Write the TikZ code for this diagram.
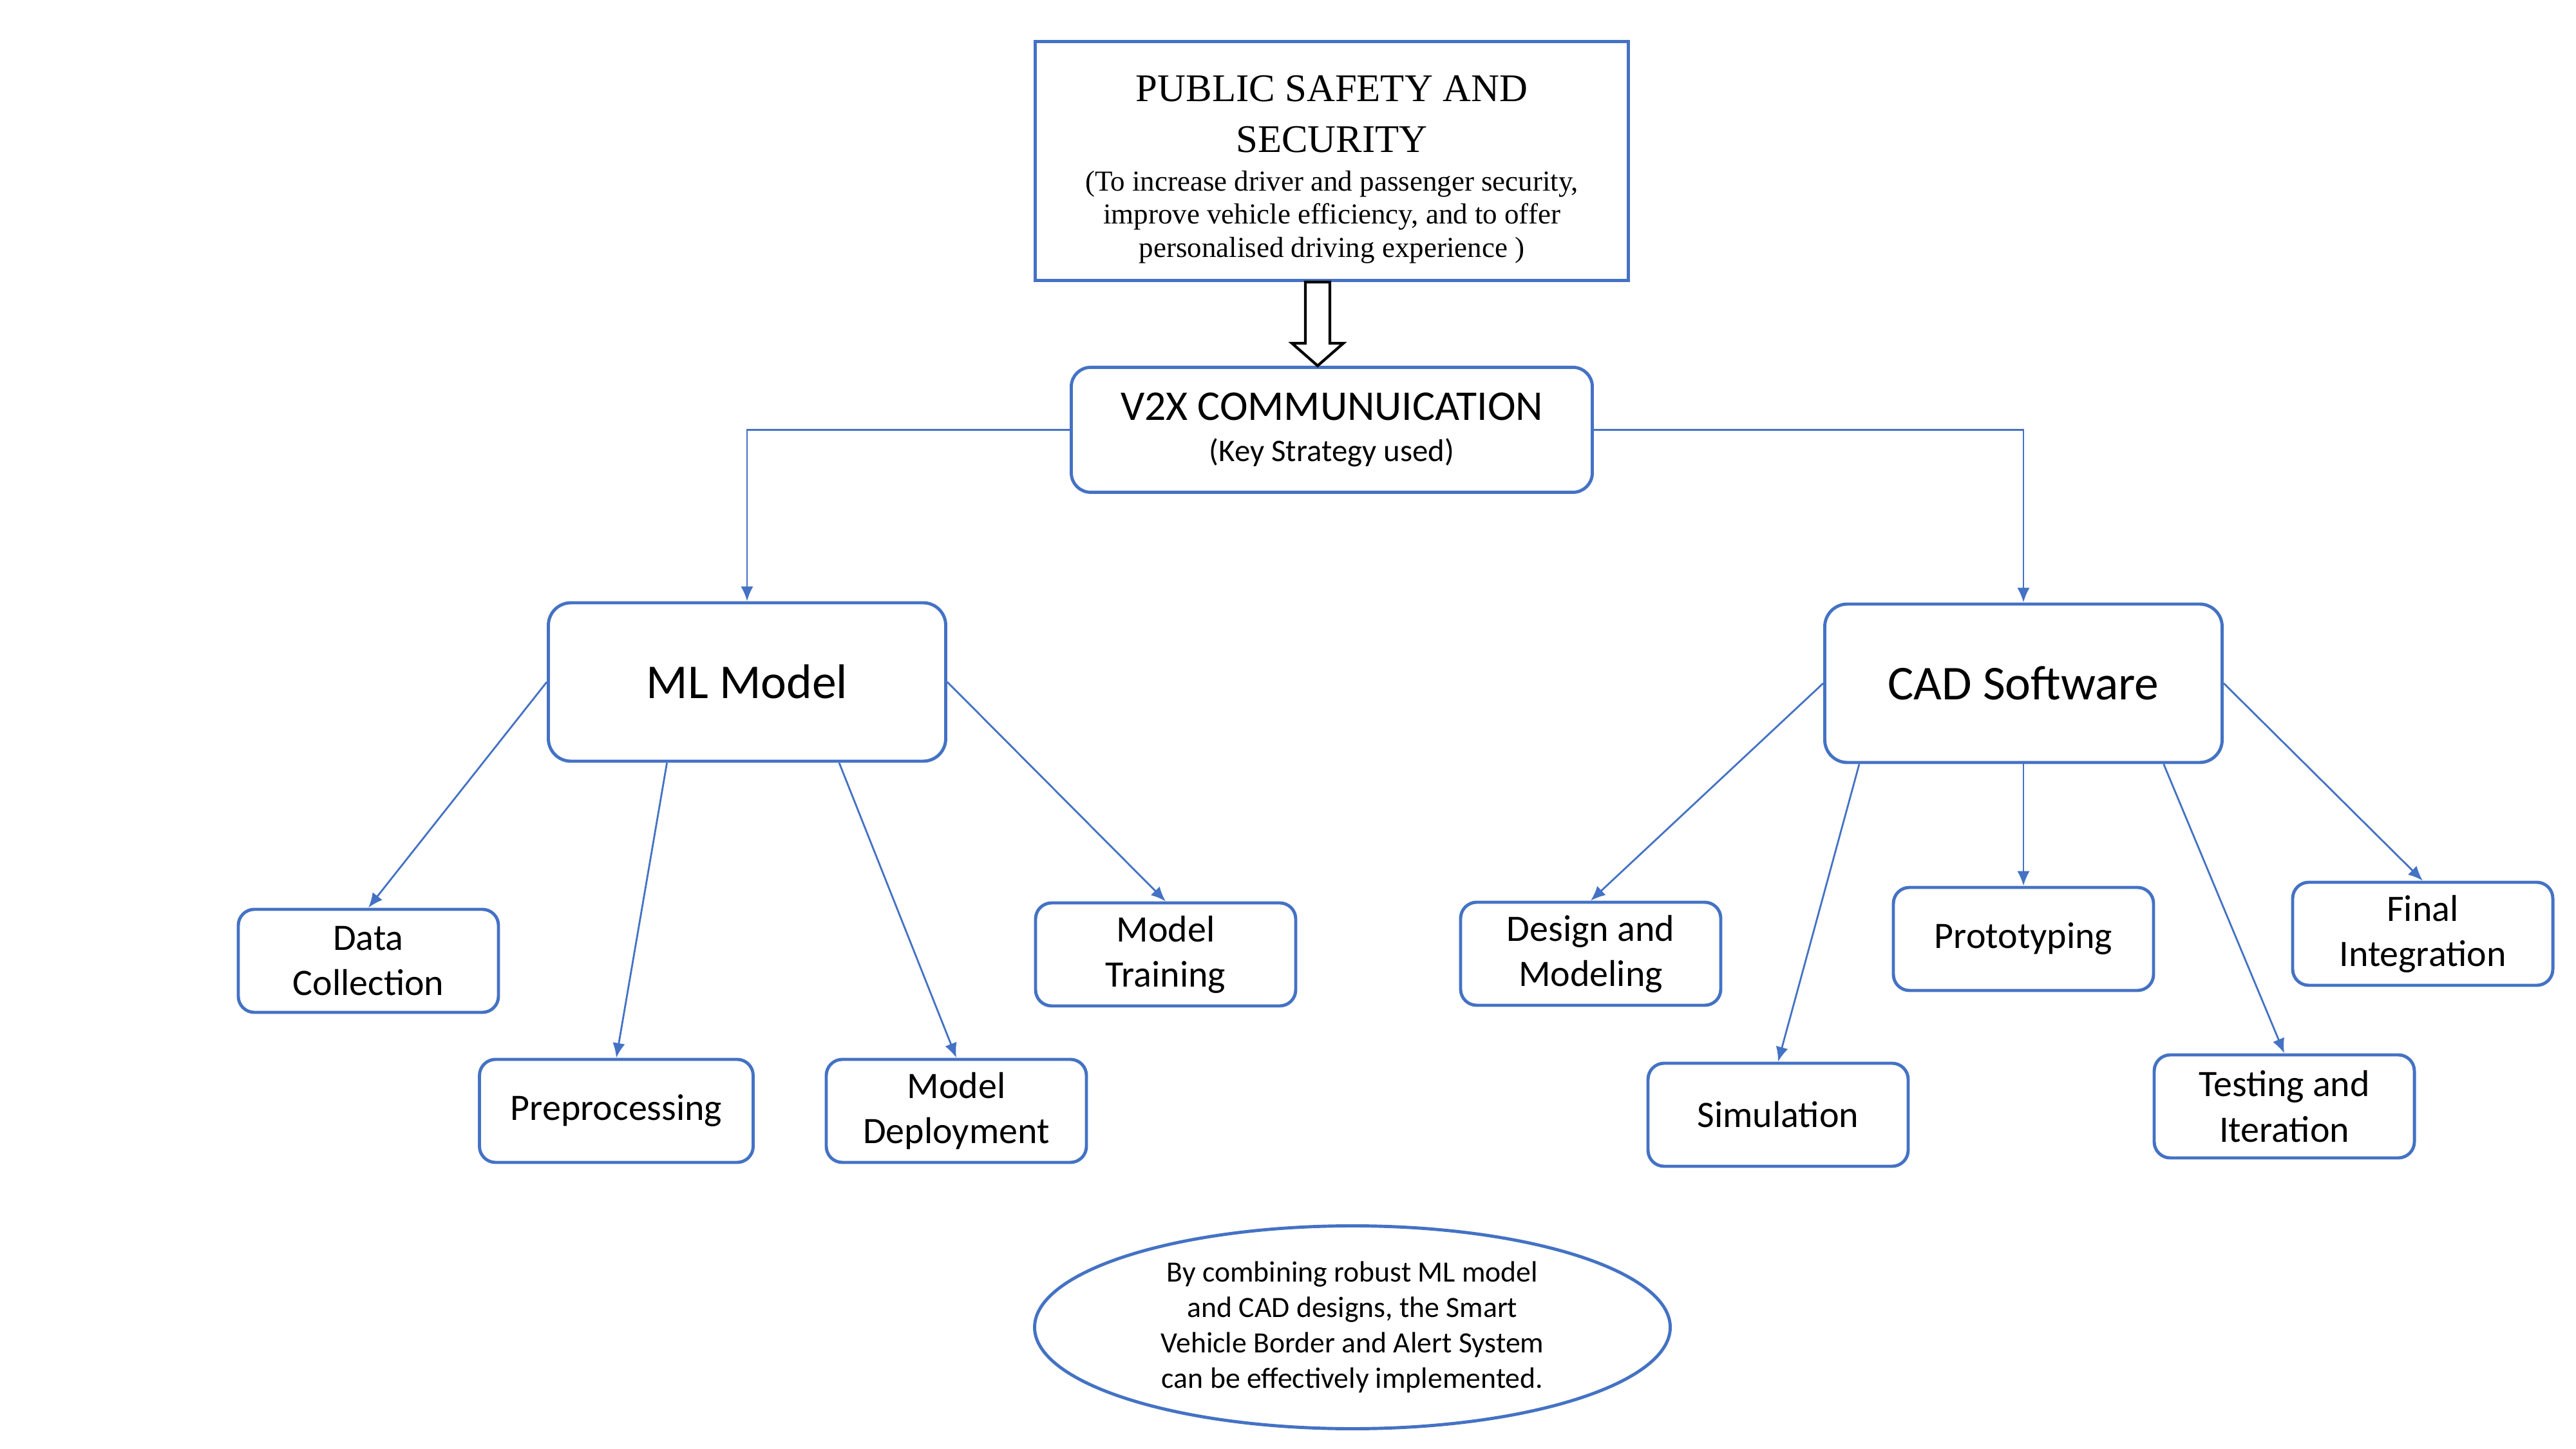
\documentclass[tikz,border=0pt]{standalone}
\usepackage{fontspec}
\setmainfont{Carlito}
\newfontfamily\serifhead{Liberation Serif}
\usepackage{tikz}
\usetikzlibrary{positioning, arrows.meta, shapes.geometric, calc}

\definecolor{boxblue}{HTML}{4472C4}

\tikzset{
	mainbox/.style={draw=boxblue, line width=1.4pt, rectangle, rounded corners=0.35cm, minimum width=6.17cm, minimum height=2.46cm, align=center, font=\fontsize{21.5}{25}\selectfont},
	stepbox/.style={draw=boxblue, line width=1.4pt, rectangle, rounded corners=0.25cm, minimum width=4.04cm, minimum height=1.6cm, text width=3.6cm, align=flush center, font=\fontsize{16.5}{20}\selectfont},
	link/.style={draw=boxblue, line width=0.8pt, ->}
}

\begin{document}
\begin{tikzpicture}[auto, >={Latex[length=6.5pt,width=5.5pt]}]
	\path[use as bounding box, fill=white] (0,0) rectangle (40,-22.5);
	
	% Define nodes
	\node [draw=boxblue, line width=1.4pt, rectangle, minimum width=9.21cm, minimum height=3.71cm, text width=8.6cm, align=flush center, font=\serifhead] (safety) at (20.68,-2.5) {{\fontsize{17.3}{22.5}\selectfont \rule{0pt}{19pt}PUBLIC SAFETY AND\\ SECURITY\\[2.4pt]}{\fontsize{12.8}{14.6}\selectfont (To increase driver and passenger security,\\ improve vehicle efficiency, and to offer\\ personalised driving experience )\par}};
	\node [draw=boxblue, line width=1.4pt, rectangle, rounded corners=0.3cm, below=1.3cm of safety, minimum width=8.09cm, minimum height=1.94cm, text width=7.6cm, align=flush center, font=\fontsize{18.7}{22}\selectfont] (v2x) {V2X COMMUNUICATION\\ {\fontsize{13.9}{18.2}\selectfont (Key Strategy used)\par}};
	\coordinate (push) at ($(safety.south)+(-0.22,0)$);
	
	\node [mainbox] (ml) at (11.60,-10.59) {ML Model};
	\node [mainbox] (cad) at (31.42,-10.61) {CAD Software};
	
	\node [stepbox] (data) at (5.72,-14.92) {Data\\Collection};
	\node [stepbox, minimum width=4.25cm] (prep) at (9.57,-17.25) {Preprocessing};
	\node [stepbox] (deploy) at (14.85,-17.25) {Model\\Deployment};
	\node [stepbox] (train) at (18.10,-14.82) {Model\\Training};
	
	\node [stepbox] (design) at (24.70,-14.81) {Design and\\Modeling};
	\node [stepbox] (sim) at (27.61,-17.31) {Simulation};
	\node [stepbox] (proto) at (31.42,-14.58) {Prototyping};
	\node [stepbox] (test) at (35.47,-17.18) {Testing and\\Iteration};
	\node [stepbox] (final) at (37.62,-14.50) {Final\\Integration};
	
	\node [draw=boxblue, line width=1.4pt, ellipse, minimum width=9.87cm, minimum height=3.15cm, inner sep=0pt, text width=6.8cm, align=flush center, font=\fontsize{13}{15.6}\selectfont] (summary) at (21.0,-20.61) {By combining robust ML model\\and CAD designs, the Smart\\Vehicle Border and Alert System\\can be effectively implemented.};
	
	% Hollow arrow from the goal to the strategy
	\draw [line width=1.2pt, fill=white] ($(push)+(-0.19,0)$) -- ++(0,-0.95) -- ++(-0.21,0) -- ++(0.4,-0.35) -- ++(0.4,0.35) -- ++(-0.21,0) -- ++(0,0.95) -- cycle;
	
	% Arrows between blocks
	\draw [link] (v2x.west) -| (ml.north);
	\draw [link] (v2x.east) -| (cad.north);
	
	\draw [link] (ml.west) -- (data.north);
	\draw [link] ($(ml.south west)!0.3!(ml.south east)$) -- (prep.north);
	\draw [link] ($(ml.south west)!0.73!(ml.south east)$) -- (deploy.north);
	\draw [link] (ml.east) -- (train.north);
	
	\draw [link] (cad.west) -- (design.north);
	\draw [link] ($(cad.south west)!0.09!(cad.south east)$) -- (sim.north);
	\draw [link] (cad.south) -- (proto.north);
	\draw [link] ($(cad.south west)!0.85!(cad.south east)$) -- (test.north);
	\draw [link] (cad.east) -- (final.north);
\end{tikzpicture}
\end{document}
